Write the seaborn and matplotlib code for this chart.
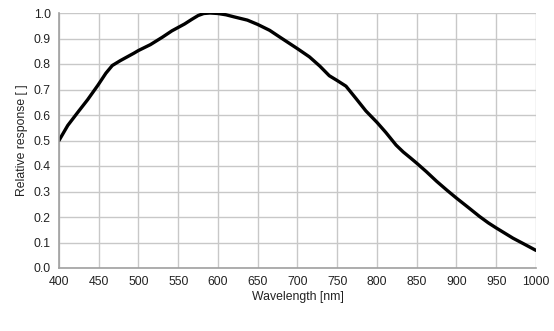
import matplotlib
matplotlib.use("Agg")
import matplotlib.pyplot as plt
import seaborn as sns
import pandas as pd

wavelength = [400, 411, 424, 436, 449, 459, 467, 477, 494, 500, 515, 530, 542, 558, 567,
              575, 582, 590, 600, 610, 620, 637, 650, 665, 678, 700, 715, 728, 740, 750,
              761, 774, 786, 800, 811, 824, 833, 842, 850, 862, 875, 888, 900, 915, 929,
              940, 950, 960, 971, 985, 1000]
response = [0.50, 0.559, 0.612, 0.660, 0.717, 0.764, 0.794, 0.813, 0.842, 0.853, 0.876,
            0.905, 0.930, 0.957, 0.975, 0.990, 0.998, 1.0, 0.998, 0.993, 0.985, 0.972,
            0.955, 0.932, 0.905, 0.860, 0.828, 0.792, 0.754, 0.735, 0.713, 0.663, 0.616,
            0.571, 0.532, 0.482, 0.455, 0.432, 0.411, 0.378, 0.340, 0.305, 0.274, 0.237,
            0.202, 0.177, 0.157, 0.138, 0.117, 0.094, 0.069]
x_ticks = [400, 450, 500, 550, 600, 650, 700, 750, 800, 850, 900, 950, 1000]
y_ticks = [0.0, 0.1, 0.2, 0.3, 0.4, 0.5, 0.6, 0.7, 0.8, 0.9, 1.0]
x_label = "Wavelength [nm]"
y_label = "Relative response [ ]"

sns.set_style("whitegrid")
plt.rcParams['font.family'] = ['Liberation Sans', 'DejaVu Sans']

df = pd.DataFrame({"wl": wavelength, "r": response})

fig = plt.figure(figsize=(5.54, 3.31), dpi=100)
ax = fig.add_axes([59/554, (331-268)/331, (536-59)/554, (268-13)/331])
sns.lineplot(data=df, x="wl", y="r", ax=ax, color="black", linewidth=2.4)
for ln in ax.lines:
    ln.set_solid_joinstyle("round")
    ln.set_solid_capstyle("round")

ax.set_xlim(400, 1000)
ax.set_ylim(0, 1.0)
ax.set_xticks(x_ticks)
ax.set_yticks(y_ticks)
ax.set_yticklabels([f"{v:.1f}" for v in y_ticks])
ax.grid(True, color="#c8c8c8", linewidth=1.0)
ax.set_axisbelow(True)
for s in ["top", "right"]:
    ax.spines[s].set_visible(False)
for s in ["left", "bottom"]:
    ax.spines[s].set_visible(True)
    ax.spines[s].set_color("#a0a0a0")
    ax.spines[s].set_linewidth(1.2)
ax.tick_params(axis="both", which="both", direction="out", length=4, width=1,
               color="#a0a0a0", labelsize=8.8, labelcolor="#222222", pad=2)
ax.set_xlabel(x_label, fontsize=8.8, color="#222222", labelpad=2)
ax.set_ylabel(y_label, fontsize=8.8, color="#222222", labelpad=4)

fig.savefig("out.png", dpi=100)
